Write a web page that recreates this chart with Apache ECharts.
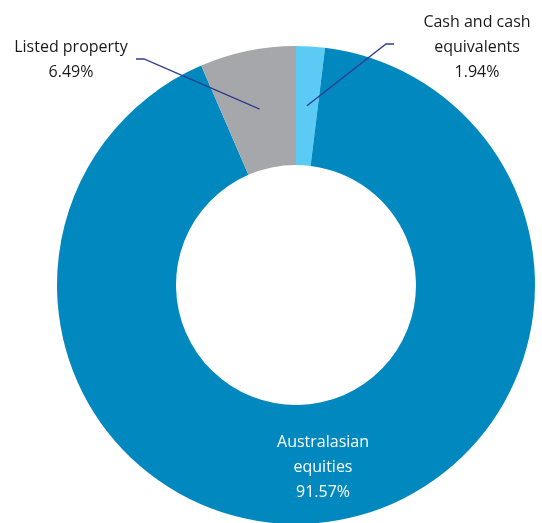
<!DOCTYPE html>
<html>
<head>
<meta charset="utf-8">
<script src="https://cdn.jsdelivr.net/npm/echarts@6/dist/echarts.min.js"></script>
<style>
html,body{margin:0;padding:0;background:#fff;}
#chart{width:542px;height:523px;}
</style>
</head>
<body>
<div id="chart"></div>
<script>
// Data
const categories = ['Cash and cash\nequivalents', 'Australasian\nequities', 'Listed property'];
const values = [1.94, 91.57, 6.49];
const colors = ['#5BCBF5', '#0088BF', '#A6A7AB'];
const labelColors = ['#1a1a1a', '#ffffff', '#1a1a1a'];

const chart = echarts.init(document.getElementById('chart'));
const cx = 296, cy = 285, r0 = 120, r1 = 239;
const total = values.reduce((a, b) => a + b, 0);

// label placement (x, y centre), leader elbow & end
const labelPos = [
  { x: 477, y: 47, elbow: [386, 44], end: [394, 44] },
  { x: 323, y: 467 },
  { x: 71, y: 60, elbow: [144, 59], end: [136, 59] }
];

function midAnchor(i) {
  let before = 0;
  for (let k = 0; k < i; k++) before += values[k];
  const midFrac = (before + values[i] / 2) / total;
  const ang = (90 - midFrac * 360) * Math.PI / 180;
  const rm = (r0 + r1) / 2;
  return [cx + rm * Math.cos(ang), cy - rm * Math.sin(ang)];
}

const base = {
  type: 'pie',
  center: [cx, cy],
  radius: [r0, r1],
  startAngle: 90,
  clockwise: true,
  avoidLabelOverlap: false,
  emphasis: { disabled: true },
  silent: true
};

chart.setOption({
  animation: false,
  series: [
    Object.assign({}, base, {
      z: 1,
      itemStyle: { borderWidth: 0 },
      label: { show: false },
      labelLine: { show: false },
      data: categories.map((c, i) => ({ name: c, value: values[i], itemStyle: { color: colors[i] } }))
    }),
    Object.assign({}, base, {
      z: 5,
      itemStyle: { color: 'rgba(0,0,0,0)', borderWidth: 0 },
      label: {
        show: true,
        formatter: p => p.name + '\n' + p.value.toFixed(2) + '%',
        fontFamily: 'Open Sans',
        fontSize: 16,
        lineHeight: 25,
        align: 'center',
        color: '#1a1a1a'
      },
      labelLine: {
        show: true,
        lineStyle: { color: '#2E3C8F', width: 1.3 }
      },
      labelLayout: function (params) {
        const i = params.dataIndex;
        const lp = labelPos[i];
        const out = { x: lp.x, y: lp.y, align: 'center', verticalAlign: 'middle' };
        if (lp.elbow) {
          out.labelLinePoints = [midAnchor(i), lp.elbow, lp.end];
        }
        return out;
      },
      data: categories.map((c, i) => ({
        name: c,
        value: values[i],
        label: { color: labelColors[i] },
        labelLine: { show: i !== 1 }
      }))
    })
  ]
});
</script>
</body>
</html>
